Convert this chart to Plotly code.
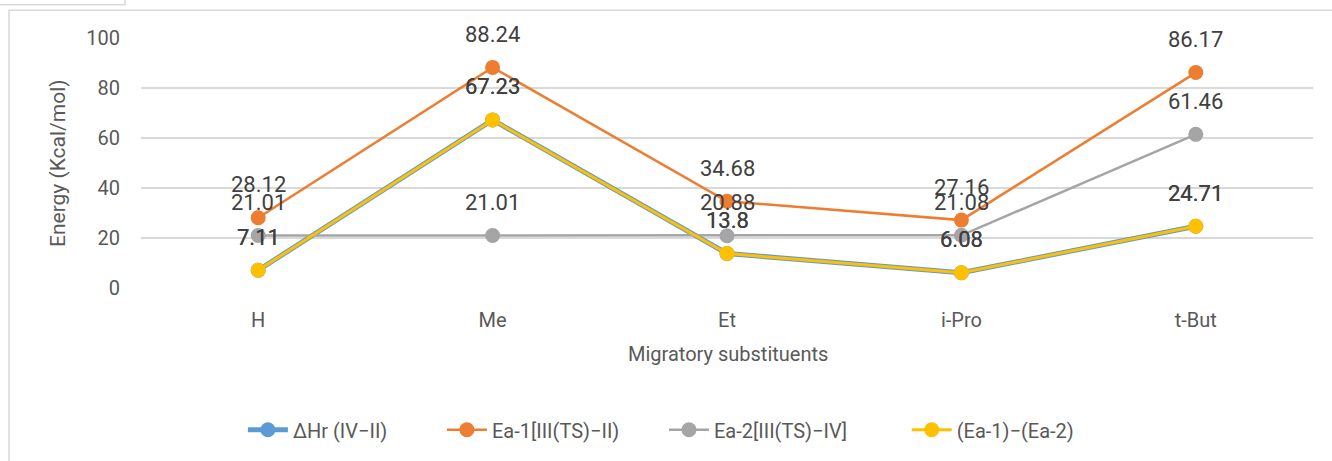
import plotly.graph_objects as go

categories = ["H", "Me", "Et", "i-Pro", "t-But"]
dhr = [7.11, 67.23, 13.8, 6.08, 24.71]
ea1 = [28.12, 88.24, 34.68, 27.16, 86.17]
ea2 = [21.01, 21.01, 20.88, 21.08, 61.46]
diff = [7.11, 67.23, 13.8, 6.08, 24.71]

series_names = ["ΔHr (IV\u2212II)", "Ea-1[III(TS)\u2212II)", "Ea-2[III(TS)\u2212IV]", "(Ea-1)\u2212(Ea-2)"]
series_values = [dhr, ea1, ea2, diff]
series_colors = ["#5B9BD5", "#ED7D31", "#A5A5A5", "#FFC000"]
series_widths = [5, 2.5, 2.5, 3]
legend_pad = [10, 8, 11, 3]

fig = go.Figure()
annotations = []
for name, vals, color, w, pad in zip(series_names, series_values, series_colors, series_widths, legend_pad):
    fig.add_trace(go.Scatter(
        x=categories, y=vals, name=name + "\u00a0" * pad, mode="lines+markers",
        line=dict(color=color, width=w),
        marker=dict(color=color, size=15),
    ))
    for c, v in zip(categories, vals):
        annotations.append(dict(
            x=c, y=v, xref="x", yref="y", text=f"{v:g}", showarrow=False,
            yshift=33, yanchor="middle", xanchor="center",
            font=dict(family="Roboto", size=22, color="#404040"),
        ))

annotations.append(dict(
    x=-0.0708, y=0.5, xref="paper", yref="paper", text="Energy (Kcal/mol)",
    textangle=-90, showarrow=False, xanchor="center", yanchor="middle",
    font=dict(family="Roboto", size=21, color="#595959"),
))
annotations.append(dict(
    x=0.5009, y=-0.262, xref="paper", yref="paper", text="Migratory substituents",
    showarrow=False, xanchor="center", yanchor="middle",
    font=dict(family="Roboto", size=20, color="#595959"),
))

shapes = [
    dict(type="rect", xref="paper", yref="paper", x0=-0.1126, y0=-0.72, x1=1.06, y1=1.111,
         line=dict(color="#D9D9D9", width=1.5), fillcolor="rgba(0,0,0,0)", layer="below"),
    dict(type="rect", xref="paper", yref="paper", x0=-0.13, y0=1.1329, x1=-0.01365, y1=1.2,
         line=dict(color="#D9D9D9", width=1.5), fillcolor="rgba(0,0,0,0)", layer="below"),
]

fig.update_layout(
    width=1332, height=461,
    margin=dict(l=141, r=19, t=38, b=171),
    paper_bgcolor="white", plot_bgcolor="white",
    showlegend=True,
    legend=dict(orientation="h", x=0.45, xanchor="center", y=-0.567, yanchor="middle",
                font=dict(family="Roboto", size=20, color="#595959"),
                itemwidth=40, tracegroupgap=0),
    annotations=annotations,
    shapes=shapes,
    xaxis=dict(type="category", range=[-0.5, 4.5], showgrid=False, zeroline=False,
               showline=False, ticks="", ticklabelstandoff=18, automargin=False,
               tickfont=dict(family="Roboto", size=20, color="#595959")),
    yaxis=dict(range=[0, 100], dtick=20, showgrid=True, gridcolor="#D9D9D9", gridwidth=1.5,
               zeroline=False, showline=False, ticks="", ticklabelstandoff=20, automargin=False,
               tickfont=dict(family="Roboto", size=20, color="#595959")),
)

fig.write_html("out.html", config={"displayModeBar": False},
               post_script="document.body.style.margin='0';document.body.style.padding='0';")
